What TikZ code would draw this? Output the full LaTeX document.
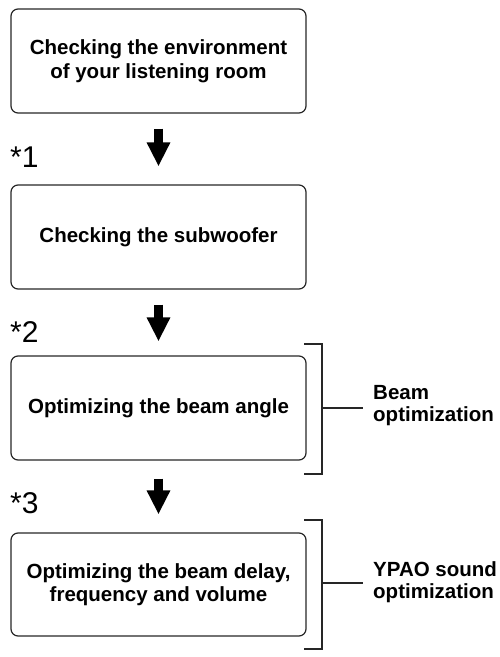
\documentclass[tikz,border=0pt]{standalone}
\usepackage{fontspec}
\setmainfont{Liberation Sans}
\usetikzlibrary{arrows.meta}
\begin{document}
\begin{tikzpicture}[x=1pt,y=1pt,
  stepbox/.style={draw=black!85,line width=1.2pt,rounded corners=7pt,minimum width=295pt,minimum height=104pt,inner sep=0pt,
    font=\fontsize{20.5}{23.5}\selectfont\bfseries,align=center},
  bigarrow/.style={line width=8.5pt,-{Triangle[width=22pt,length=24pt]}},
  starlbl/.style={anchor=base west,inner sep=0pt,font=\fontsize{30}{30}\selectfont},
  bracket/.style={line width=1.1pt,draw=black!85},
  sidelbl/.style={anchor=west,inner sep=0pt,align=left,font=\fontsize{20.5}{22}\selectfont\bfseries}]
\useasboundingbox (0,0) rectangle (500,-657);
\node[stepbox] (b1) at (158.5,-61) {Checking the environment\\of your listening room};
\node[stepbox] (b2) at (158.5,-237) {Checking the subwoofer};
\node[stepbox] (b3) at (158.5,-408) {Optimizing the beam angle};
\node[stepbox,minimum height=103pt] (b4) at (158.5,-584.5) {Optimizing the beam delay,\\frequency and volume};
\draw[bigarrow] ([yshift=-15pt]b1.south) -- ([yshift=18pt]b2.north);
\draw[bigarrow] ([yshift=-15pt]b2.south) -- ([yshift=14pt]b3.north);
\draw[bigarrow] ([yshift=-18pt]b3.south) -- ([yshift=18pt]b4.north);
\node[starlbl] (s1) at (10,-167) {*1};
\node[starlbl] (s2) at (10,-342) {*2};
\node[starlbl] (s3) at (10,-513) {*3};
% brackets
\draw[bracket] (304,-344) -- (322,-344) -- (322,-474) -- (304,-474);
\coordinate (k3) at (322,-408);
\node[sidelbl] (l3) at (373,-406) {Beam\\optimization};
\draw[bracket] (k3) -- ([xshift=-10pt]l3.west|-k3);
\draw[bracket] (304,-520) -- (322,-520) -- (322,-649) -- (304,-649);
\coordinate (k4) at (322,-583);
\node[sidelbl] (l4) at (373,-582) {YPAO sound\\optimization};
\draw[bracket] (k4) -- ([xshift=-10pt]l4.west|-k4);
\end{tikzpicture}
\end{document}
